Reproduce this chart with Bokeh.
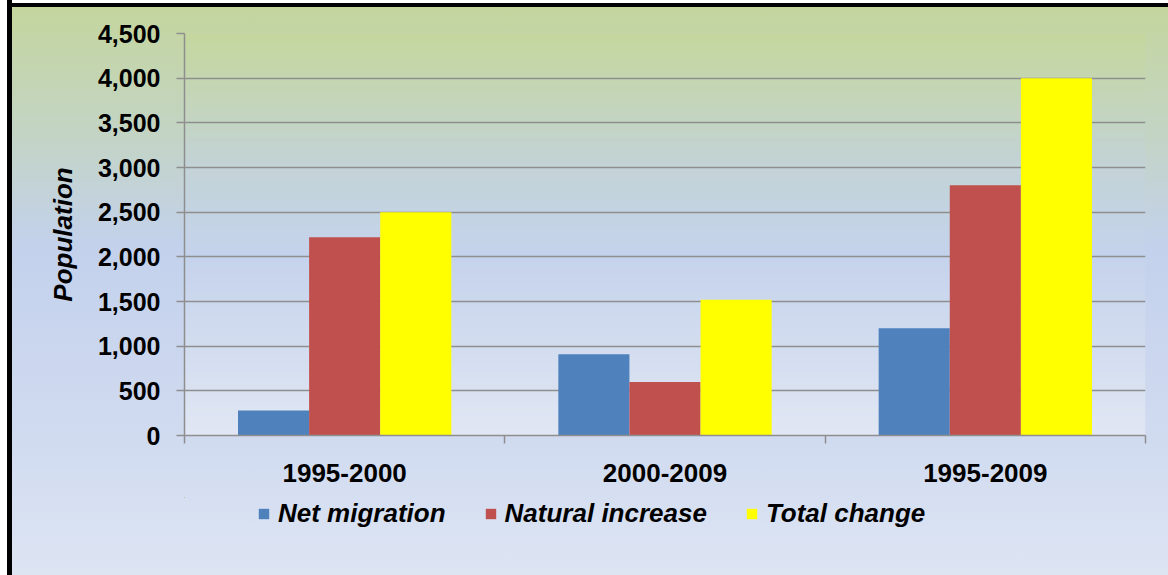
import numpy as np
from bokeh.plotting import figure
from bokeh.layouts import column
from bokeh.models import (ColumnDataSource, Range1d, LinearAxis,
                          FixedTicker, NumeralTickFormatter, Legend, LegendItem)
from bokeh.transform import dodge
from bokeh.embed import file_html
from bokeh.resources import INLINE

# ---- data ----
periods = ["1995-2000", "2000-2009", "1995-2009"]
net_migration = [280, 910, 1200]
natural_increase = [2220, 600, 2800]
total_change = [2500, 1520, 4000]
series_names = ["Net migration", "Natural increase", "Total change"]
series_colors = ["#4f81bd", "#c0504d", "#ffff00"]
y_ticks = [0, 500, 1000, 1500, 2000, 2500, 3000, 3500, 4000, 4500]

FONT = "Liberation Sans"
GRAY = "#8e8e8e"

# each period occupies one unit on the x scale; its centre is index + 0.5
centres = [i + 0.5 for i in range(len(periods))]
source = ColumnDataSource(dict(period=periods, xc=centres, net=net_migration,
                               nat=natural_increase, tot=total_change))

p = figure(width=1168, height=497,
           x_range=Range1d(0, len(periods)),
           y_range=Range1d(0, 4500),
           x_axis_location=None,
           output_backend="svg", toolbar_location=None,
           min_border_left=184, min_border_top=33,
           min_border_right=23, min_border_bottom=62)
p.border_fill_alpha = 0
p.background_fill_alpha = 0
p.outline_line_color = None

# plot-area gradient (styling only)
stops = [(0.0, (0xe1, 0xe7, 0xf4)), (0.45, (0xc5, 0xd3, 0xec)),
         (0.68, (0xc3, 0xd3, 0xd6)), (1.0, (0xc6, 0xd8, 0x9e))]
n = 256
img = np.empty((n, 1), dtype=np.uint32)
view = img.view(dtype=np.uint8).reshape((n, 1, 4))
fr = np.linspace(0, 1, n)
sf = [s[0] for s in stops]
for c in range(3):
    view[:, 0, c] = np.interp(fr, sf, [s[1][c] for s in stops]).astype(np.uint8)
view[:, 0, 3] = 255
p.image_rgba(image=[img], x=0, y=0, dw=len(periods), dh=4500, level="image")

# bars
bw = 0.222
bar_cols = ["net", "nat", "tot"]
offsets = [-bw, 0, bw]
for col, off, colr in zip(bar_cols, offsets, series_colors):
    p.vbar(x=dodge("xc", off), top=col, width=bw, source=source,
           fill_color=colr, line_color=None)

# grid
p.xgrid.visible = False
p.ygrid.grid_line_color = GRAY
p.ygrid.grid_line_width = 1.5

# y axis
ya = p.yaxis[0]
ya.ticker = FixedTicker(ticks=y_ticks)
ya.formatter = NumeralTickFormatter(format="0,0")
ya.axis_line_color = GRAY
ya.axis_line_width = 1.5
ya.major_tick_line_color = GRAY
ya.major_tick_line_width = 1.5
ya.major_tick_in = 0
ya.major_tick_out = 8
ya.minor_tick_line_color = None
ya.major_label_standoff = 16
ya.major_label_text_font = FONT
ya.major_label_text_font_style = "bold"
ya.major_label_text_font_size = "25px"
ya.major_label_text_color = "#000000"
ya.axis_label = "Population"
ya.axis_label_text_font = FONT
ya.axis_label_text_font_style = "bold italic"
ya.axis_label_text_font_size = "26px"
ya.axis_label_text_color = "#000000"
ya.axis_label_standoff = 17

# x axis (labels at group centres, ticks at group boundaries)
xa = LinearAxis(ticker=FixedTicker(ticks=centres,
                                   minor_ticks=list(range(len(periods) + 1))),
                major_label_overrides={c: lab for c, lab in zip(centres, periods)})
xa.axis_line_color = GRAY
xa.axis_line_width = 1.5
xa.major_tick_line_color = None
xa.minor_tick_line_color = GRAY
xa.minor_tick_line_width = 1.5
xa.minor_tick_in = 0
xa.minor_tick_out = 8
xa.major_tick_out = 8
xa.major_label_standoff = 20
xa.major_label_text_font = FONT
xa.major_label_text_font_style = "bold"
xa.major_label_text_font_size = "26px"
xa.major_label_text_color = "#000000"
p.add_layout(xa, "below")

# legend strip below the chart (its frame is aligned with the chart frame)
q = figure(width=1168, height=78, x_range=Range1d(100, 101), y_range=Range1d(-20000, -10000),
           output_backend="svg", toolbar_location=None,
           x_axis_location=None, y_axis_location=None, min_border=0)
q.border_fill_alpha = 0
q.background_fill_alpha = 0
q.outline_line_color = None
q.grid.visible = False
items = []
for name, col, off, colr in zip(series_names, bar_cols, offsets, series_colors):
    # legend proxy: same series, lying outside this strip's visible range
    proxy = q.vbar(x=dodge("xc", off), top=col, width=bw, source=source,
                   fill_color=colr, line_color=None)
    items.append(LegendItem(label=name, renderers=[proxy]))
legend = Legend(items=items, orientation="horizontal", location=(73, 46),
                padding=0, margin=0, spacing=38,
                glyph_width=13, glyph_height=13, label_standoff=8,
                background_fill_alpha=0, border_line_color=None,
                label_text_font=FONT, label_text_font_style="bold italic",
                label_text_font_size="26px", label_text_color="#000000")
q.add_layout(legend, "center")

layout = column(p, q, spacing=0)
layout.styles = {
    "background": (
        "linear-gradient(to right, #fff 0px, #fff 7px, #000 7px, #000 12px, rgba(0,0,0,0) 12px),"
        "linear-gradient(to bottom, #fff 0px, #fff 3px, #000 3px, #000 7px, rgba(0,0,0,0) 7px),"
        "linear-gradient(to bottom, #c4d69b 0%, #c3d4c6 24%, #c3d1ec 43%,"
        " #d1dbf0 77%, #dde5f3 100%)"
    )
}

open("out.html", "w").write(file_html(layout, INLINE))
